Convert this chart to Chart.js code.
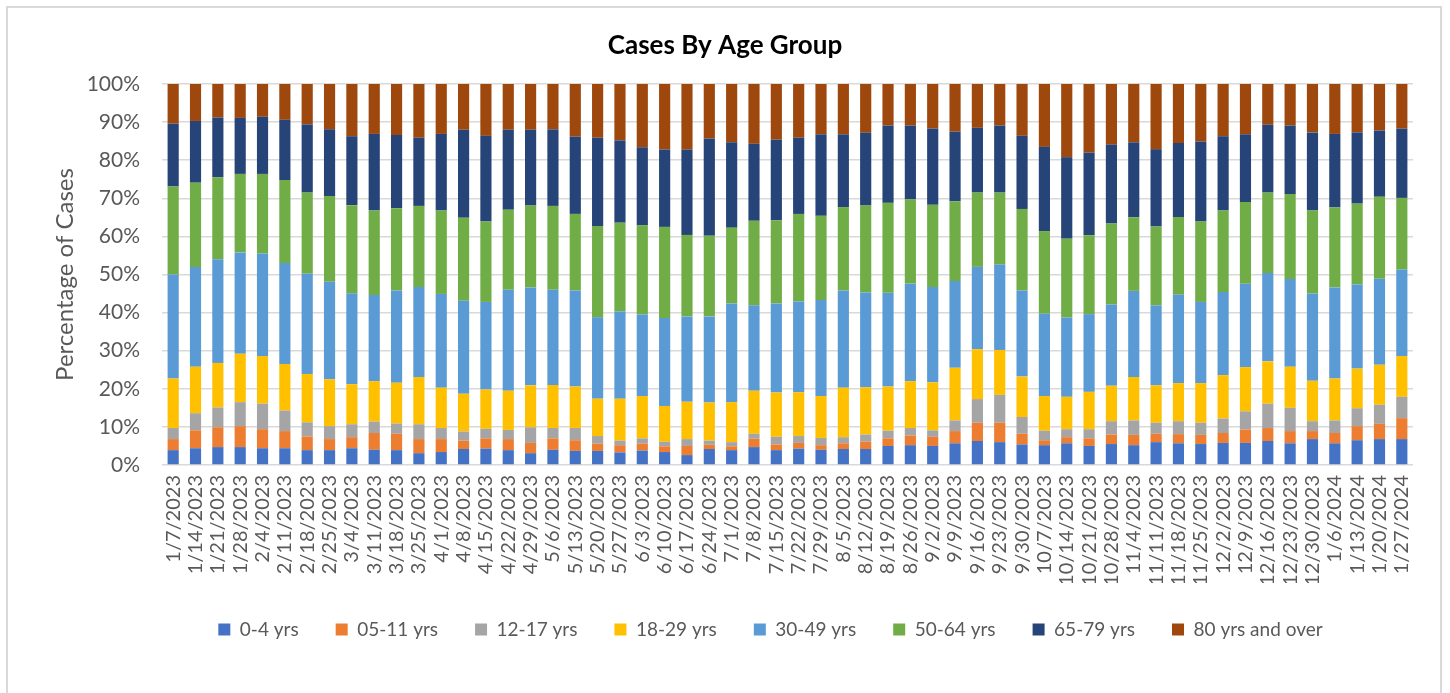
<!DOCTYPE html>
<html>
<head>
<meta charset="utf-8">
<title>Cases By Age Group</title>
<script src="https://cdn.jsdelivr.net/npm/chart.js@4.4.0/dist/chart.umd.min.js"></script>
<style>
  html, body { margin: 0; padding: 0; background: #fff; }
  #frame { position: absolute; left: 6px; top: 6px; width: 1436px; height: 700px; border: 2px solid #d9d9d9; box-sizing: border-box; }
  #ageChart { position: absolute; left: 0; top: 0; }
</style>
</head>
<body>
<div id="frame"></div>
<canvas id="ageChart" width="1450" height="693"></canvas>
<script>
// week ending dates (x axis)
const weekLabels = ['1/7/2023','1/14/2023','1/21/2023','1/28/2023','2/4/2023','2/11/2023','2/18/2023','2/25/2023',
  '3/4/2023','3/11/2023','3/18/2023','3/25/2023','4/1/2023','4/8/2023','4/15/2023','4/22/2023','4/29/2023',
  '5/6/2023','5/13/2023','5/20/2023','5/27/2023','6/3/2023','6/10/2023','6/17/2023','6/24/2023','7/1/2023',
  '7/8/2023','7/15/2023','7/22/2023','7/29/2023','8/5/2023','8/12/2023','8/19/2023','8/26/2023','9/2/2023',
  '9/9/2023','9/16/2023','9/23/2023','9/30/2023','10/7/2023','10/14/2023','10/21/2023','10/28/2023','11/4/2023',
  '11/11/2023','11/18/2023','11/25/2023','12/2/2023','12/9/2023','12/16/2023','12/23/2023','12/30/2023',
  '1/6/2024','1/13/2024','1/20/2024','1/27/2024'];

// share of cases (%) per age group
const age0to4 = [3.9,4.4,4.7,4.7,4.4,4.4,3.9,3.9,4.4,4.0,3.9,3.1,3.4,4.2,4.3,3.9,3.1,4.0,3.7,3.7,3.3,3.8,3.4,2.6,4.2,3.9,4.7,3.9,4.3,4.0,4.2,4.2,5.0,5.2,5.0,5.7,6.3,6.0,5.4,5.2,5.7,5.0,5.5,5.2,6.0,5.7,5.5,5.8,5.8,6.3,5.7,6.8,5.7,6.5,6.8,6.8];
const age5to11 = [2.9,4.7,5.2,5.5,5.0,4.5,3.6,2.9,2.9,4.4,4.3,3.7,3.4,2.2,2.7,2.9,2.7,3.0,2.8,1.9,1.9,1.8,1.5,2.4,1.1,1.0,2.2,1.5,1.5,1.2,1.5,1.9,2.0,2.5,2.4,3.2,4.8,5.1,2.8,1.3,1.6,2.0,2.5,2.7,2.2,2.4,2.4,2.6,3.5,3.4,3.2,2.1,2.7,3.7,4.0,5.5];
const age12to17 = [2.9,4.5,5.2,6.3,6.7,5.4,3.7,3.4,3.4,3.0,2.7,3.9,2.9,2.4,2.5,2.4,4.1,2.7,3.2,2.0,1.2,1.4,1.2,1.8,1.1,1.1,1.3,2.0,1.8,1.9,1.6,1.9,2.0,2.0,1.7,2.8,6.2,7.3,4.4,2.5,2.1,2.4,3.5,3.8,2.9,3.4,3.2,3.8,4.8,6.4,6.1,2.6,3.3,4.7,5.0,5.6];
const age18to29 = [13.0,12.2,11.7,12.7,12.5,12.2,12.7,12.3,10.5,10.6,10.7,12.4,10.6,9.9,10.3,10.3,11.0,11.3,10.9,9.8,11.0,11.1,9.4,9.8,10.0,10.5,11.3,11.6,11.5,11.0,13.0,12.4,11.6,12.3,12.6,13.8,13.1,11.8,10.6,9.1,8.5,9.8,9.3,11.4,9.8,10.0,10.4,11.4,11.6,11.1,10.8,10.6,11.0,10.4,10.5,10.7];
const age30to49 = [27.3,26.2,27.2,26.6,26.9,26.5,26.3,25.6,23.9,22.6,24.2,23.6,24.6,24.4,23.0,26.5,25.7,25.0,25.2,21.4,22.9,21.4,23.1,22.4,22.6,25.9,22.4,23.4,23.8,25.2,25.5,24.9,24.6,25.6,25.0,22.8,21.6,22.4,22.6,21.6,20.8,20.4,21.3,22.6,21.0,23.2,21.3,21.8,21.9,23.2,23.0,22.9,23.9,22.1,22.6,22.7];
const age50to64 = [23.1,22.1,21.5,20.6,20.9,21.8,21.3,22.5,23.1,22.2,21.6,21.3,21.9,21.8,21.1,21.0,21.5,22.0,20.1,23.9,23.3,23.4,23.9,21.4,21.2,19.9,22.2,21.8,23.0,22.1,21.9,22.8,23.6,22.1,21.6,20.9,19.5,18.9,21.4,21.7,20.7,20.7,21.3,19.3,20.7,20.4,21.1,21.4,21.4,21.1,22.3,21.8,21.0,21.2,21.5,18.8];
const age65to79 = [16.5,16.2,15.7,14.7,15.0,15.8,17.9,17.5,18.1,20.1,19.2,17.9,20.1,23.1,22.5,21.0,19.9,20.1,20.3,23.2,21.6,20.5,20.3,22.4,25.5,22.4,20.2,21.2,20.0,21.4,19.1,19.1,20.3,19.4,20.0,18.3,17.0,17.6,19.2,22.1,21.4,21.7,20.7,19.7,20.3,19.4,21.0,19.5,17.8,17.8,18.0,20.5,19.3,18.7,17.4,18.2];
const age80plus = [10.4,9.7,8.8,8.9,8.6,9.4,10.6,11.9,13.7,13.1,13.4,14.1,13.1,12.0,13.6,12.0,12.0,11.9,13.8,14.1,14.8,16.6,17.2,17.2,14.3,15.3,15.7,14.6,14.1,13.2,13.2,12.8,10.9,10.9,11.7,12.5,11.5,10.9,13.6,16.5,19.2,18.0,15.9,15.3,17.1,15.5,15.1,13.7,13.2,10.7,10.9,12.7,13.1,12.7,12.2,11.7];

const groupNames = ['0-4 yrs','05-11 yrs','12-17 yrs','18-29 yrs','30-49 yrs','50-64 yrs','65-79 yrs','80 yrs and over'];
const groupValues = [age0to4, age5to11, age12to17, age18to29, age30to49, age50to64, age65to79, age80plus];
const groupColors = ['#4472C4','#ED7D31','#A5A5A5','#FFC000','#5B9BD5','#70AD47','#264478','#9E480E'];

const yTicks = [0,10,20,30,40,50,60,70,80,90,100];

const textGray = '#595959';
const baseFont = 'Lato, "Open Sans", sans-serif';

const datasets = groupNames.map((name, i) => ({
    label: name,
    data: groupValues[i],
    backgroundColor: groupColors[i],
    borderWidth: 0,
    barPercentage: 0.5,
    categoryPercentage: 1.0
}));

// legend sits a little left of the plot centre in the original
const legendShift = {
    id: 'legendShift',
    afterLayout(chart) {
        if (chart.legend) chart.legend.left -= 34;
    }
};

new Chart(document.getElementById('ageChart'), {
    type: 'bar',
    data: { labels: weekLabels, datasets: datasets },
    plugins: [legendShift],
    options: {
        responsive: false,
        animation: false,
        layout: { padding: { left: 37, right: 37, top: 0, bottom: 44 } },
        plugins: {
            title: {
                display: true,
                text: 'Cases By Age Group',
                color: '#000',
                font: { family: baseFont, size: 26, weight: 'bold' },
                padding: { top: 30.4, bottom: 22.4 }
            },
            legend: {
                position: 'bottom',
                fullSize: false,
                labels: {
                    color: textGray,
                    font: { family: baseFont, size: 19 },
                    boxWidth: 12,
                    boxHeight: 12,
                    padding: 37
                }
            },
            tooltip: { enabled: false }
        },
        scales: {
            x: {
                stacked: true,
                grid: { display: false, drawTicks: false },
                border: { display: false },
                ticks: {
                    autoSkip: false,
                    minRotation: 90,
                    maxRotation: 90,
                    padding: 10,
                    color: textGray,
                    font: { family: baseFont, size: 20 }
                },
                afterFit: (s) => { s.height = 118; }
            },
            y: {
                stacked: true,
                min: 0,
                max: 100,
                afterBuildTicks: (s) => { s.ticks = yTicks.map(v => ({ value: v })); },
                grid: { color: '#d9d9d9', lineWidth: 1.5, drawTicks: false },
                border: { display: false },
                ticks: {
                    padding: 22,
                    color: textGray,
                    font: { family: baseFont, size: 21 },
                    callback: (v) => v + '%'
                },
                title: {
                    display: true,
                    text: 'Percentage of Cases',
                    color: textGray,
                    font: { family: baseFont, size: 24 },
                    padding: { top: 13.6, bottom: 0 }
                },
                afterFit: (s) => { s.width = 125; }
            }
        }
    }
});
</script>
</body>
</html>
